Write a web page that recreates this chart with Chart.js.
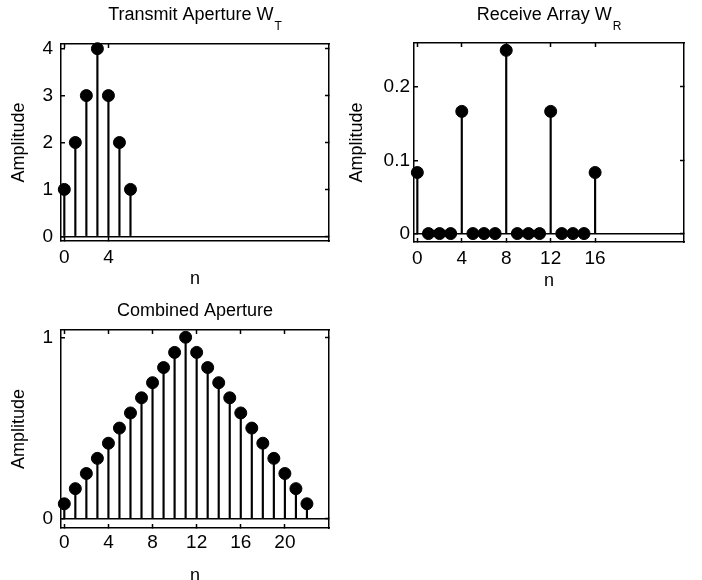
<!DOCTYPE html>
<html>
<head>
<meta charset="utf-8">
<script src="https://cdn.jsdelivr.net/npm/chart.js@4.4.1/dist/chart.umd.min.js"></script>
<style>
  html, body { margin: 0; padding: 0; background: #fff; width: 702px; height: 580px; overflow: hidden; }
  canvas { position: absolute; }
</style>
</head>
<body>
<canvas id="txChart" width="350" height="290" style="left:0;top:0"></canvas>
<canvas id="rxChart" width="362" height="292" style="left:340px;top:0"></canvas>
<canvas id="combChart" width="350" height="300" style="left:0;top:290px"></canvas>
<script>
// transmit aperture
const txN = [0, 1, 2, 3, 4, 5, 6];
const txAmp = [1, 2, 3, 4, 3, 2, 1];
const txXTicks = [0, 4];
const txYTicks = [0, 1, 2, 3, 4];

// receive array (sparse, every 4th element)
const rxN = [0, 1, 2, 3, 4, 5, 6, 7, 8, 9, 10, 11, 12, 13, 14, 15, 16];
const rxAmp = [0.0833, 0, 0, 0, 0.1667, 0, 0, 0, 0.25, 0, 0, 0, 0.1667, 0, 0, 0, 0.0833];
const rxXTicks = [0, 4, 8, 12, 16];
const rxYTicks = [0, 0.1, 0.2];

// combined (effective) aperture
const combN = [0, 1, 2, 3, 4, 5, 6, 7, 8, 9, 10, 11, 12, 13, 14, 15, 16, 17, 18, 19, 20, 21, 22];
const combAmp = [0.0833, 0.1667, 0.25, 0.3333, 0.4167, 0.5, 0.5833, 0.6667, 0.75, 0.8333, 0.9167, 1,
                 0.9167, 0.8333, 0.75, 0.6667, 0.5833, 0.5, 0.4167, 0.3333, 0.25, 0.1667, 0.0833];
const combXTicks = [0, 4, 8, 12, 16, 20];
const combYTicks = [0, 1];

const FONT = '"Liberation Sans", Arial, Helvetica, sans-serif';
Chart.defaults.font.family = FONT;
Chart.defaults.color = '#000';

// title with optional subscript, centred over the plot box
const subplotTitle = {
    id: 'subplotTitle',
    afterDraw(chart, args, opts) {
        const ctx = chart.ctx;
        const area = chart.chartArea;
        ctx.save();
        ctx.fillStyle = '#000';
        ctx.textBaseline = 'alphabetic';
        ctx.textAlign = 'left';
        ctx.font = '18px ' + FONT;
        const w1 = ctx.measureText(opts.text).width;
        ctx.font = '12px ' + FONT;
        const w2 = opts.sub ? ctx.measureText(opts.sub).width + 1 : 0;
        const x = (area.left + area.right) / 2 - (w1 + w2) / 2;
        ctx.font = '18px ' + FONT;
        ctx.fillText(opts.text, x, opts.y);
        if (opts.sub) {
            ctx.font = '12px ' + FONT;
            ctx.fillText(opts.sub, x + w1 + 1, opts.y + 10);
        }
        ctx.restore();
    }
};

function setTicks(values) {
    return function(axis) {
        axis.ticks = values.map(v => ({ value: v }));
    };
}

// MATLAB-like stem plot: thin bars as stems, filled dots on top, box with inward ticks
function stemChart(id, n, amp, xTicks, yTicks, c) {
    const pts = n.map((x, i) => ({ x: x, y: amp[i] }));
    const tickGrid = { drawOnChartArea: false, offset: false, tickLength: -4, tickColor: '#000', tickWidth: 1.5 };
    const box = { display: true, color: '#000', width: 1.5 };

    return new Chart(document.getElementById(id), {
        type: 'bar',
        data: {
            datasets: [{
                type: 'line',
                data: pts,
                showLine: false,
                pointRadius: 6,
                pointHoverRadius: 6,
                pointBackgroundColor: '#000',
                pointBorderColor: '#000',
                pointBorderWidth: 1,
                clip: false,
                order: 0
            }, {
                type: 'bar',
                data: pts,
                backgroundColor: '#000',
                barThickness: 1.5,
                order: 1
            }]
        },
        options: {
            responsive: false,
            animation: false,
            events: [],
            layout: { padding: { top: c.top, right: c.right, left: 0, bottom: 0 } },
            plugins: {
                legend: { display: false },
                tooltip: { enabled: false },
                subplotTitle: { text: c.title, sub: c.sub, y: c.titleY }
            },
            scales: {
                x: {
                    type: 'linear', position: 'bottom', min: c.xMin, max: c.xMax, offset: false,
                    afterBuildTicks: setTicks(xTicks),
                    afterFit: a => { a.height = c.xAxisH; },
                    ticks: { autoSkip: false, maxRotation: 0, padding: c.xTickPad, color: '#000',
                             font: { size: 19 }, callback: v => String(v) },
                    grid: tickGrid,
                    border: box,
                    title: { display: true, text: 'n', color: '#000', font: { size: 18 },
                             padding: { top: 0, bottom: c.nPad } }
                },
                x2: {
                    type: 'linear', position: 'top', min: c.xMin, max: c.xMax, offset: false,
                    afterBuildTicks: setTicks(xTicks),
                    afterFit: a => { a.height = 0; },
                    ticks: { display: false },
                    grid: tickGrid,
                    border: box
                },
                y: {
                    type: 'linear', position: 'left', min: c.yMin, max: c.yMax,
                    afterBuildTicks: setTicks(yTicks),
                    afterFit: a => { a.width = c.yAxisW; },
                    ticks: { padding: c.yTickPad, color: '#000', font: { size: 19 }, callback: v => String(v) },
                    grid: {
                        drawOnChartArea: true,
                        // only the zero line is drawn across the box (stem baseline)
                        color: ctx => (ctx.tick && ctx.tick.value === 0) ? '#000' : 'rgba(0,0,0,0)',
                        lineWidth: 1.5,
                        tickLength: -4, tickColor: '#000', tickWidth: 1.5
                    },
                    border: box,
                    title: { display: true, text: 'Amplitude', color: '#000', font: { size: 18 },
                             padding: { top: c.ampPad, bottom: 0 } }
                },
                y2: {
                    type: 'linear', position: 'right', min: c.yMin, max: c.yMax,
                    afterBuildTicks: setTicks(yTicks),
                    afterFit: a => { a.width = 0; },
                    ticks: { display: false },
                    grid: tickGrid,
                    border: box
                }
            }
        },
        plugins: [subplotTitle]
    });
}

stemChart('txChart', txN, txAmp, txXTicks, txYTicks, {
    title: 'Transmit Aperture W', sub: 'T', titleY: 20,
    xMin: -0.3, xMax: 24, yMin: -0.1, yMax: 4.1,
    top: 44, right: 21, yAxisW: 61, xAxisH: 49,
    xTickPad: 9, yTickPad: 12, ampPad: 8.5, nPad: 0
});

stemChart('rxChart', rxN, rxAmp, rxXTicks, rxYTicks, {
    title: 'Receive Array W', sub: 'R', titleY: 19.5,
    xMin: -0.3, xMax: 24, yMin: -0.0115, yMax: 0.26,
    top: 43, right: 18, yAxisW: 74, xAxisH: 50,
    xTickPad: 9, yTickPad: 8, ampPad: 6.7, nPad: 0
});

stemChart('combChart', combN, combAmp, combXTicks, combYTicks, {
    title: 'Combined Aperture', sub: '', titleY: 26,
    xMin: -0.3, xMax: 24, yMin: -0.05, yMax: 1.04,
    top: 40, right: 21, yAxisW: 61, xAxisH: 62,
    xTickPad: 7.6, yTickPad: 12, ampPad: 8.5, nPad: 3.3
});
</script>
</body>
</html>
